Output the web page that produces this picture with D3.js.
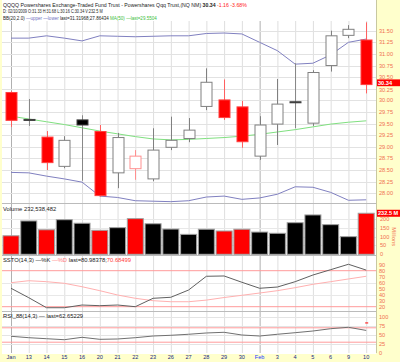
<!DOCTYPE html>
<html><head><meta charset="utf-8">
<script src="https://cdn.jsdelivr.net/npm/d3@7"></script>
<style>body{margin:0;background:#fff}svg{display:block}text{font-family:"Liberation Sans",Arial,sans-serif}</style>
</head><body><svg id="c" width="400" height="362"></svg>
<script>
const dates  = ["Jan","13","14","15","16","20","21","22","23","26","27","28","29","30","Feb","3","4","5","6","9","10"];
const opens  = [30.17,29.59,29.21,28.58,29.58,29.33,28.44,28.53,28.31,28.99,29.18,29.87,30.01,29.86,28.80,29.49,29.97,29.51,30.75,31.40,31.30];
const highs  = [30.20,30.03,29.34,29.23,29.68,29.47,29.30,28.93,29.40,29.65,29.62,30.69,30.45,29.99,29.66,30.46,30.80,30.65,31.50,31.62,31.68];
const lows   = [29.43,29.45,28.50,28.54,28.27,27.93,28.11,28.29,28.26,28.93,29.10,29.79,29.58,28.98,28.72,29.04,29.40,29.45,30.62,31.34,30.15];
const closes = [29.57,29.58,28.66,29.14,29.47,27.95,29.20,28.80,28.93,29.14,29.36,30.39,29.63,29.11,29.47,29.92,29.97,30.60,31.39,31.53,30.34];
const prevClose0 = 30.20;
const bbUpper = [31.34,31.34,31.39,31.34,31.28,31.39,31.38,31.37,31.38,31.39,31.39,31.44,31.45,31.43,31.25,31.07,30.78,30.80,30.98,31.25,31.32];
const bbLower = [28.45,28.44,28.37,28.31,28.24,27.94,27.91,27.84,27.83,27.82,27.84,27.92,27.94,27.87,27.90,27.98,28.14,28.13,28.02,27.85,27.86];
const ma50    = [29.66,29.60,29.54,29.48,29.41,29.34,29.28,29.22,29.17,29.15,29.16,29.18,29.20,29.23,29.27,29.32,29.37,29.43,29.49,29.53,29.56];
const volumes = [105,189,139,196,176,136,151,202,173,143,113,142,132,142,126,119,179,223,168,100,232.5];
const stochK  = [50.7,35,18.3,18.3,22.8,21.7,22.8,20,34,35.7,47.8,70.7,71.2,60.7,50.7,52.8,61.7,72.8,81.7,90.7,81];
const stochD  = [60,63.3,61.7,59,53.3,46.7,39.5,34,30,28.3,28.3,31,35.3,39,42.8,46.7,51.7,57.3,61.7,66.2,70.7];
const rsi     = [46.4,42.5,39.7,36.9,43.6,38,38.9,42.5,47.2,49.2,52,55.6,57.5,50,47.2,52,56.4,61.1,67.5,71.4,62.7];
const priceTicks = [28.00,28.25,28.50,28.75,29.00,29.25,29.50,29.75,30.00,30.25,30.50,30.75,31.00,31.25,31.50];
const volTicks = [0,50,100,150,200];
const stochTicks = [20,30,40,50,60,70,80,90];
const rsiTicks = [0,25,50,75,100];

const svg = d3.select("#c");
const W = 400, H = 362, L = 2, R = 376;
const idx = d3.range(dates.length);
const x = d3.scalePoint().domain(idx).range([11, 366.2]);

const P = {top:21, bot:203};
const V = {top:204, bot:255};
const S = {top:256, bot:311};
const Q = {top:312, bot:353};
const y  = d3.scaleLinear().domain([28, 31.5]).range([193.3, 30.7]);
const yv = d3.scaleLinear().domain([0, 200]).range([254.3, 219]);
const ys = d3.scaleLinear().domain([20, 80]).range([306.7, 270.7]);
const yr = d3.scaleLinear().domain([0, 100]).range([353, 317]);

svg.append("rect").attr("width",W).attr("height",H).attr("fill","#fff");
svg.append("rect").attr("x",R).attr("y",0).attr("width",W-R).attr("height",H).attr("fill","#ffffcc");
svg.append("rect").attr("x",0).attr("y",Q.bot+1).attr("width",W).attr("height",H-Q.bot).attr("fill","#ffffcc");
svg.append("rect").attr("x",0).attr("y",0).attr("width",L).attr("height",H).attr("fill","#ffffcc");
svg.append("line").attr("x1",R+0.5).attr("x2",R+0.5).attr("y1",0).attr("y2",Q.bot).attr("stroke","#c8c8a0");

const defs = svg.append("defs");
[["cp",P],["cv",V],["cs",S],["cr",Q]].forEach(([id,p])=>{
  defs.append("clipPath").attr("id",id).append("rect").attr("x",L).attr("y",p.top).attr("width",R-L).attr("height",p.bot-p.top);
});

const grid = svg.append("g");
idx.forEach(i=>{
  const dark = (i===0||i===14);
  grid.append("line").attr("x1",x(i)+0.5).attr("x2",x(i)+0.5).attr("y1",P.top).attr("y2",Q.bot)
    .attr("stroke",dark?"#b0b0b0":"#dedede").attr("stroke-width",1);
});
priceTicks.forEach(t=>grid.append("line").attr("x1",L).attr("x2",R).attr("y1",Math.round(y(t))+0.5).attr("y2",Math.round(y(t))+0.5).attr("stroke","#e2e2e2"));
[50,100,150,200].forEach(t=>grid.append("line").attr("x1",L).attr("x2",R).attr("y1",Math.round(yv(t))+0.5).attr("y2",Math.round(yv(t))+0.5).attr("stroke","#e8e8e8"));
[40,60].forEach(t=>grid.append("line").attr("x1",L).attr("x2",R).attr("y1",Math.round(ys(t))+0.5).attr("y2",Math.round(ys(t))+0.5).attr("stroke","#e8e8e8"));
[25,50,75,100].forEach(t=>grid.append("line").attr("x1",L).attr("x2",R).attr("y1",Math.round(yr(t))+0.5).attr("y2",Math.round(yr(t))+0.5).attr("stroke","#e4e4e4"));
[V.top, S.top, Q.top].forEach(v=>grid.append("line").attr("x1",L).attr("x2",R).attr("y1",v-0.5).attr("y2",v-0.5).attr("stroke","#bbbbbb"));

const mp = svg.append("g").attr("clip-path","url(#cp)");
const line = (sc)=>d3.line().x((d,i)=>x(i)).y(d=>sc(d));
mp.append("path").attr("d",line(y)(bbUpper)).attr("fill","none").attr("stroke","#8080c0").attr("stroke-width",1);
mp.append("path").attr("d",line(y)(bbLower)).attr("fill","none").attr("stroke","#8080c0").attr("stroke-width",1);
mp.append("path").attr("d",line(y)(ma50)).attr("fill","none").attr("stroke","#80e080").attr("stroke-width",1);

const cw = 11;
idx.forEach(i=>{
  const o=opens[i], c=closes[i], h=highs[i], l=lows[i];
  const pc = i===0?prevClose0:closes[i-1];
  const up = c>o, lowerClose = c<pc;
  let stroke, fill;
  if (up) { stroke = lowerClose?"#ff9090":"#808080"; fill="#fff"; }
  else { fill = lowerClose?"#ff0000":"#000"; stroke = lowerClose?"#ff4040":"#404040"; }
  const wick = up ? stroke : (lowerClose?"#ff6060":"#888");
  const cx = Math.round(x(i))+0.5;
  mp.append("line").attr("x1",cx).attr("x2",cx).attr("y1",y(h)).attr("y2",y(l)).attr("stroke",wick);
  const top = y(Math.max(o,c)), bh = Math.max(1, y(Math.min(o,c))-top);
  mp.append("rect").attr("x",cx-cw/2).attr("y",top).attr("width",cw).attr("height",bh)
    .attr("fill",fill).attr("stroke",stroke).attr("stroke-width",1);
});

const vp = svg.append("g").attr("clip-path","url(#cv)");
idx.forEach(i=>{
  const pc = i===0?prevClose0:closes[i-1];
  const red = closes[i]<pc;
  vp.append("rect").attr("x",x(i)-8).attr("y",yv(volumes[i])).attr("width",16).attr("height",yv(0)-yv(volumes[i]))
    .attr("fill",red?"#ff0000":"#000").attr("stroke","#a0a0a0").attr("stroke-width",1);
});

const sp = svg.append("g").attr("clip-path","url(#cs)");
[80,20].forEach(t=>sp.append("line").attr("x1",L).attr("x2",R).attr("y1",ys(t)).attr("y2",ys(t)).attr("stroke","#ff9a9a"));
sp.append("path").attr("d",line(ys)(stochD)).attr("fill","none").attr("stroke","#ffb0b0").attr("stroke-width",1);
sp.append("path").attr("d",line(ys)(stochK)).attr("fill","none").attr("stroke","#606060").attr("stroke-width",1);

const rp = svg.append("g").attr("clip-path","url(#cr)");
[70,30].forEach(t=>rp.append("line").attr("x1",L).attr("x2",R).attr("y1",yr(t)).attr("y2",yr(t)).attr("stroke","#ff9a9a"));
rp.append("path").attr("d",line(yr)(rsi)).attr("fill","none").attr("stroke","#707070").attr("stroke-width",1);
rp.append("line").attr("x1",x(20)-1).attr("x2",x(20)+2).attr("y1",yr(83.5)).attr("y2",yr(83.5)).attr("stroke","#ff0000");

const lastC = closes[closes.length-1];
const ax = svg.append("g").attr("font-size",5.6).attr("fill","#f07050");
priceTicks.forEach(t=>{
  const ty = Math.abs(y(t)-y(lastC))<6 ? y(t)+3.2 : y(t)+2;
  ax.append("text").attr("x",379).attr("y",ty).text(t.toFixed(2));
});
volTicks.forEach(t=>ax.append("text").attr("x",380).attr("y",yv(t)+2).text(t));
stochTicks.forEach(t=>ax.append("text").attr("x",379).attr("y",ys(t)+2).text(t));
rsiTicks.forEach(t=>ax.append("text").attr("x",379).attr("y",yr(t)+2).text(t));
ax.append("text").attr("transform",`translate(392,${yv(100)}) rotate(90)`).attr("text-anchor","middle").text("Millions");

svg.append("rect").attr("x",377).attr("y",y(lastC)-5.2).attr("width",23).attr("height",6.8).attr("fill","#ff0000");
svg.append("text").attr("x",378).attr("y",y(lastC)+0.6).attr("font-size",5.6).attr("font-weight","bold").attr("fill","#fff").text(lastC.toFixed(2));
const lastV = volumes[volumes.length-1];
svg.append("rect").attr("x",377).attr("y",yv(lastV)-3.5).attr("width",23).attr("height",7).attr("fill","#ff0000");
svg.append("text").attr("x",378).attr("y",yv(lastV)+2).attr("font-size",5.6).attr("font-weight","bold").attr("fill","#fff").text(lastV.toFixed(1)+" M");

const xl = svg.append("g").attr("font-size",5.6).attr("text-anchor","middle");
idx.forEach(i=>xl.append("text").attr("x",x(i)).attr("y",359)
  .attr("fill",dates[i]==="Feb"?"#2040ff":"#1a2a80").text(dates[i]));

// ---- header texts: one text per line, squeezed horizontally by a transform
const hd = svg.append("g").attr("font-size",6).attr("fill","#222");
function squeeze(t, x0, y0, target){
  const len = t.node().getComputedTextLength();
  t.attr("transform",`translate(${x0},${y0}) scale(${target/len},1)`);
}
const t1 = hd.append("text");
t1.append("tspan").text("QQQQ Powershares Exchange-Traded Fund Trust - Powershares Qqq Trust,(NQ NM)  ");
t1.append("tspan").attr("font-weight","bold").text("30.34");
t1.append("tspan").attr("fill","#ff2020").text("  -1.16  -3.68%");
squeeze(t1, 3, 6.5, 244);
const t2 = hd.append("text").text("D: 02/10/2009 O:31.33 H:31.68 L:30.16 C:30.34 V:232.5 M");
squeeze(t2, 3, 13, 100);
const t3 = hd.append("text");
t3.append("tspan").text("BB(20,2.0) ");
t3.append("tspan").attr("fill","#7070c0").text("—upper —lower");
t3.append("tspan").text(" last=31.31968;27.86434 ");
t3.append("tspan").attr("fill","#40c040").text("MA(50) —last=29.5504");
squeeze(t3, 3, 19.5, 154);
hd.append("text").attr("x",3).attr("y",210.5).attr("font-size",5.8).text("Volume 232,538,482");
const t5 = hd.append("text").attr("x",3).attr("y",261.5).attr("font-size",5.8);
t5.append("tspan").text("SSTO(14,3) —%K ");
t5.append("tspan").attr("fill","#ff8080").text("—%D");
t5.append("tspan").text(" last=80.98378;");
t5.append("tspan").attr("fill","#ff4040").text("70.68499");
hd.append("text").attr("x",3).attr("y",317.5).attr("font-size",5.8).text("RSI_88(14,3) — last=62.65229");
</script></body></html>
